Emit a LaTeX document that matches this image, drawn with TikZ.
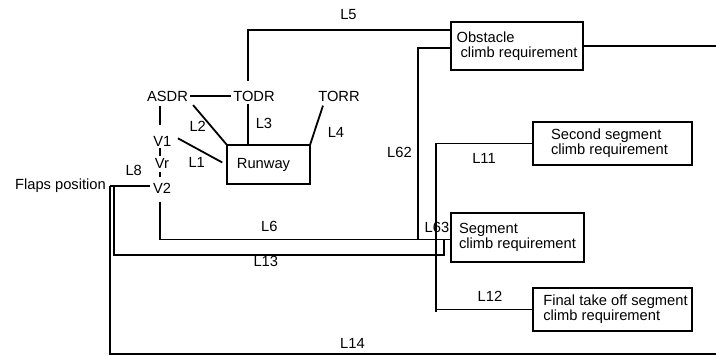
\documentclass[tikz,border=0pt]{standalone}
\usepackage{fontspec}
\setmainfont{Liberation Sans}
\usetikzlibrary{calc}
\begin{document}
\begin{tikzpicture}[x=1pt,y=-1pt,
  every node/.style={font=\fontsize{14.7}{15}\selectfont, inner sep=2pt},
  lbl/.style={inner sep=1pt},
  boxnode/.style={draw, line width=1.8pt, anchor=north west, align=left, inner sep=0pt, outer sep=0pt},
  conn/.style={line width=1.8pt}]
\useasboundingbox[fill=white] (0,0) rectangle (716,356);

% text nodes
\node (asdr) at (167.5,96.2) {ASDR};
\node (todr) at (254,96.2) {TODR};
\node (torr) at (339,96.2) {TORR};
\node (v1) at (162.4,141) {V1};
\node (vr) at (162,163) {Vr};
\node (v2) at (162,188.3) {V2};
\node[anchor=base east, inner sep=0pt] (flaps) at (106,189) {Flaps position};

% boxes
\node[boxnode, minimum width=83, minimum height=39] (runway) at (227,145) {Runway\hspace*{10pt}};
\node[boxnode, minimum width=132, minimum height=48] (obs) at (451,22) {Obstacle\\\hspace*{4pt}climb requirement};
\node[boxnode, minimum width=159, minimum height=43] (sec) at (533,122) {Second segment\\climb requirement\hspace*{6pt}};
\node[boxnode, minimum width=133, minimum height=49] (seg) at (451,213) {Segment\\climb requirement};
\node[boxnode, minimum width=159, minimum height=43] (fin) at (533,288) {\hspace*{6pt}Final take off segment\\\hspace*{6pt}climb requirement};

% helper coordinates
\coordinate (chain) at (160,0);
\coordinate (fl) at (110,186);
\coordinate (fl2) at (114,186);
\coordinate (l6end) at ($(seg.west)+(0,2)$);
\coordinate (l13c) at (444,255);
\coordinate (l62b) at (418,0);
\coordinate (outR) at (716,46);
\coordinate (outB) at (716,354);
\coordinate (bus) at (436,312);

% connectors
\draw[conn] (asdr.east) -- (todr.west);
\draw[conn] ([xshift=-6pt,yshift=8pt]todr.north) |- ([yshift=16pt]obs.west);
\draw[conn] ([xshift=-6pt]todr.south) -- ([xshift=-6pt]todr.south |- runway.north);
\draw[conn] ([xshift=3pt,yshift=-1.5pt]asdr.south east) -- (runway.north west);
\draw[conn] ([xshift=-16pt,yshift=-2pt]torr.south) -- (runway.north east);
\draw[conn] ([xshift=4.3pt,yshift=2.7pt]v1.east) -- ([xshift=-4.7pt,yshift=2pt]runway.west);
\draw[conn] ($(asdr.south -| chain)+(0,2.5)$) -- ($(v1.north -| chain)+(0,-8.7)$);
\draw[conn] (v1.south -| chain) -- (vr.north -| chain);
\draw[conn] ($(vr.south -| chain)+(0,1.4)$) -- ($(v2.north -| chain)+(0,-4.3)$);
\draw[conn] ($(v2.south -| chain)+(0,6)$) |- (l6end);
\draw[conn] ($(v2.west)+(-1,-2.3)$) -- (fl);
\draw[conn] (fl2) |- (l13c) -- (l13c |- l6end);
\draw[conn] (fl) |- (outB);
\draw[conn] ($(obs.west)+(0,1.7)$) -| (l62b |- l6end);
\draw[conn] (obs.east) -- (outR);
\draw[conn] (sec.west) -| (bus);
\draw[conn] (fin.west) -- (fin.west -| bus);

% labels
\node[lbl] (l5) at (348.5,15) {L5};
\node[lbl] (l2) at (197.7,126) {L2};
\node[lbl] (l3) at (264,123.3) {L3};
\node[lbl] (l4) at (336,132.3) {L4};
\node[lbl] (l1) at (196.7,162.3) {L1};
\node[lbl] (l8) at (133.7,170) {L8};
\node[lbl] (l62) at (399.5,152.7) {L62};
\node[lbl] (l11) at (484,158) {L11};
\node[lbl] (l6) at (269.3,226.7) {L6};
\node[lbl] (l13) at (265.8,261.7) {L13};
\node[lbl] (l63) at (437,227.3) {L63};
\node[lbl] (l12) at (490,296) {L12};
\node[lbl] (l14) at (352.5,343) {L14};
\end{tikzpicture}
\end{document}
